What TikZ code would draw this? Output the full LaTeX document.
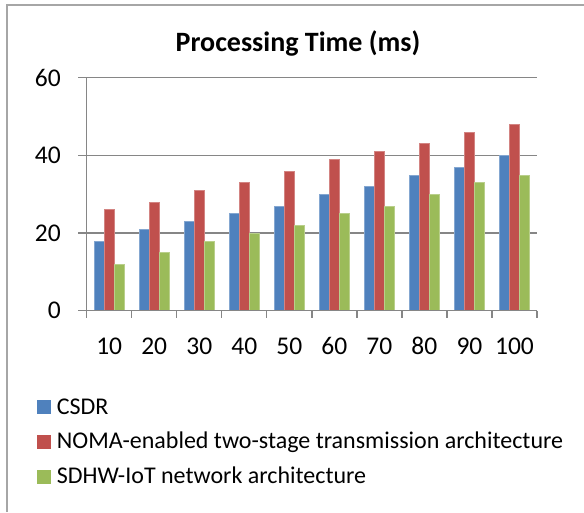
\documentclass[tikz,border=0pt]{standalone}
\usepackage{fontspec}
\setmainfont{Carlito}
\definecolor{csdr}{HTML}{4F81BD}
\definecolor{noma}{HTML}{C0504D}
\definecolor{sdhw}{HTML}{9BBB59}
\definecolor{gridc}{HTML}{868686}
\definecolor{framec}{HTML}{A6A6A6}
\begin{document}
\begin{tikzpicture}[x=1pt,y=-1pt,
  gridline/.style={draw=gridc,line width=1.3pt},
  bar/.style={line width=0.5pt},
  ticklab/.style={font=\fontsize{25.5}{30}\selectfont,inner sep=0pt},
  leglab/.style={font=\fontsize{24}{28}\selectfont,inner sep=0pt,anchor=base west},
  legsq/.style={minimum width=14pt,minimum height=14pt,inner sep=0pt,draw=none}]
\useasboundingbox (0,0) rectangle (584,512);
% frame (top and left visible)
\draw[framec,line width=1.5pt] (7,512) -- (7,5) -- (584,5);
% title
\node[font=\fontsize{28}{32}\selectfont\bfseries,anchor=base,inner sep=0pt] (title) at (298,51.7) {Processing Time (ms)};
% gridlines and y labels
\foreach \v/\lab in {0/0,20/20,40/40,60/60}{
  \pgfmathsetmacro{\yy}{310.7-3.8833*\v}
  \draw[gridline] (78,\yy) -- (536.7,\yy);
  \node[ticklab,anchor=east] (y\lab) at (61,\yy) {\lab};
}
% bars
\foreach \i/\a/\b/\c in {0/18/26/12,1/21/28/15,2/23/31/18,3/25/33/20,4/27/36/22,5/30/39/25,6/32/41/27,7/35/43/30,8/37/46/33,9/40/48/35}{
  \pgfmathsetmacro{\cx}{86.7+45.03*\i+22.5}
  \fill[csdr,draw=csdr!70!white,bar] (\cx-15,310.7) rectangle (\cx-5,310.7-3.8833*\a);
  \fill[noma,draw=noma!70!white,bar] (\cx-5,310.7) rectangle (\cx+5,310.7-3.8833*\b);
  \fill[sdhw,draw=sdhw!70!white,bar] (\cx+5,310.7) rectangle (\cx+15,310.7-3.8833*\c);
}
% axes
\draw[gridline] (86.7,77.7) -- (86.7,310.7);
\draw[gridline] (86.7,310.7) -- (536.7,310.7);
\foreach \i in {0,...,10}{
  \draw[gridline] (86.7+45.03*\i,310.7) -- (86.7+45.03*\i,318);
}
% x labels
\foreach \i/\lab in {0/10,1/20,2/30,3/40,4/50,5/60,6/70,7/80,8/90,9/100}{
  \node[ticklab,anchor=base] (x\lab) at (86.7+45.03*\i+22.5,354) {\lab};
}
% legend
\node[legsq,fill=csdr] (sq1) at (44.3,407) {};
\node[leglab] (l1) at (56.7,414) {CSDR};
\node[legsq,fill=noma] (sq2) at (44.3,442) {};
\node[leglab] (l2) at (56.7,448.3) {NOMA-enabled two-stage transmission architecture};
\node[legsq,fill=sdhw] (sq3) at (44.3,477) {};
\node[leglab] (l3) at (56.7,483.3) {SDHW-IoT network architecture};
\end{tikzpicture}
\end{document}
